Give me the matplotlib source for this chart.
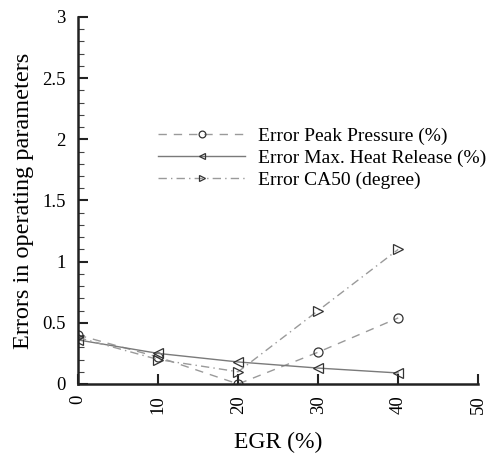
import matplotlib
matplotlib.use("Agg")
import matplotlib.pyplot as plt
from matplotlib.ticker import MultipleLocator

plt.rcParams['font.family'] = ['Liberation Serif', 'DejaVu Serif']

egr = [0, 10, 20, 30, 40]
peak_pressure = [0.40, 0.22, 0.00, 0.26, 0.54]
heat_release = [0.36, 0.25, 0.18, 0.13, 0.09]
ca50 = [0.38, 0.20, 0.10, 0.60, 1.10]
labels = ['Error Peak Pressure (%)', 'Error Max. Heat Release (%)', 'Error CA50 (degree)']

fig = plt.figure(figsize=(4.88, 4.58), dpi=100)
ax = fig.add_axes([0.16, 0.1616, 0.82, 0.8014])

ax.plot(egr, peak_pressure, linestyle=(0, (6, 5)), color='#9a9a9a', lw=1.0,
        marker='o', ms=6.5, mfc='none', mec='#333333', mew=0.9, label=labels[0])
ax.plot(egr, heat_release, linestyle='-', color='#7a7a7a', lw=1.0,
        marker='<', ms=6.5, mfc='none', mec='#333333', mew=0.9, label=labels[1])
ax.plot(egr, ca50, linestyle=(0, (6, 3, 1, 3)), color='#9a9a9a', lw=1.0,
        marker='>', ms=6.5, mfc='none', mec='#333333', mew=0.9, label=labels[2])

ax.set_xlim(0, 50)
ax.set_ylim(0, 3)
ax.xaxis.set_major_locator(MultipleLocator(10))
ax.yaxis.set_minor_locator(MultipleLocator(0.1))
ax.set_yticks([0, 0.5, 1, 1.5, 2, 2.5, 3])
ax.set_yticklabels(['0', '0.5', '1', '1.5', '2', '2.5', '3'])
ax.tick_params(axis='both', which='major', direction='in', length=7, width=1.5,
               labelsize=13.5, color='#222222')
ax.tick_params(axis='y', which='major', pad=9)
ax.tick_params(axis='x', which='major', pad=8, labelrotation=90)
ax.tick_params(axis='y', which='minor', direction='in', length=4, width=0.8, color='#444444')
for s in ['top', 'right']:
    ax.spines[s].set_visible(False)
for s in ['left', 'bottom']:
    ax.spines[s].set_linewidth(1.8)
    ax.spines[s].set_color('#222222')

ax.set_xlabel('EGR (%)', fontsize=17, labelpad=13)
ax.set_ylabel('Errors in operating parameters', fontsize=17.5, labelpad=6)

leg = ax.legend(loc='upper left', bbox_to_anchor=(0.18, 0.72), frameon=False, fontsize=14,
                handlelength=4.5, labelspacing=0.22, handletextpad=0.65,
                markerscale=0.75, borderaxespad=0)

fig.savefig('out.png', dpi=100)
